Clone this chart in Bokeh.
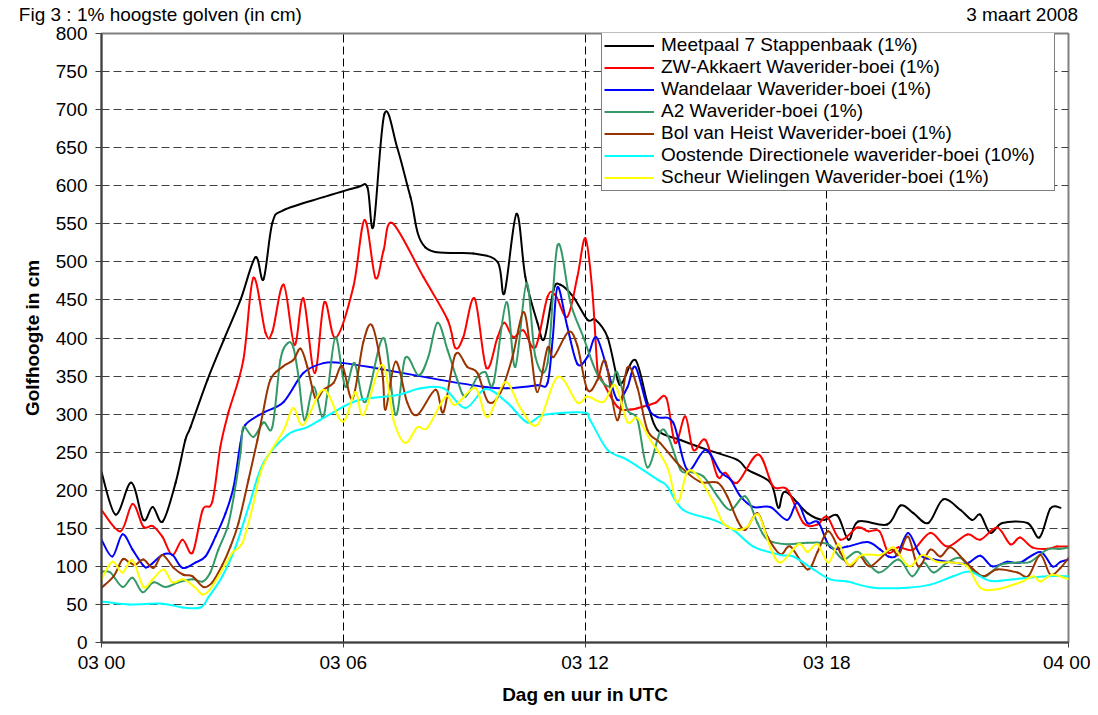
from bokeh.plotting import figure
from bokeh.models import Range1d, FixedTicker, Legend, LegendItem, LinearAxis
from bokeh.embed import file_html
from bokeh.resources import INLINE

# ---- data (hours after 03 00 UTC, height in cm) ----
black_h = [0.00, 0.35, 0.74, 1.04, 1.27, 1.52, 1.84, 2.08, 2.21, 2.63, 3.03, 3.45, 3.82, 4.02, 4.24, 4.52, 5.51, 6.35, 6.60, 6.75, 7.02, 7.34, 7.67, 8.04, 9.23, 9.83, 10.00, 10.30, 10.52, 10.82, 10.99, 11.22, 11.39, 11.71, 12.06, 12.26, 12.56, 12.81, 12.93, 13.25, 13.55, 13.80, 14.37, 15.04, 15.78, 16.03, 16.60, 16.80, 16.97, 17.52, 17.92, 18.26, 18.54, 18.78, 19.50, 19.83, 20.15, 20.52, 20.89, 21.32, 21.61, 21.81, 22.06, 22.36, 22.98, 23.28, 23.55, 23.80]
black_v = [224, 168, 210, 161, 178, 159, 210, 266, 283, 345, 397, 450, 506, 477, 551, 568, 585, 598, 598, 547, 694, 650, 585, 519, 511, 500, 459, 563, 480, 420, 399, 463, 470, 454, 424, 424, 401, 345, 342, 371, 315, 279, 266, 253, 240, 227, 210, 177, 198, 170, 161, 167, 135, 159, 155, 180, 170, 157, 188, 174, 161, 168, 144, 157, 157, 138, 176, 177]

red_h = [0.0, 0.47, 0.77, 1.04, 1.27, 1.51, 1.76, 2.01, 2.26, 2.51, 2.75, 2.95, 3.15, 3.52, 3.77, 4.07, 4.24, 4.52, 4.79, 5.01, 5.29, 5.53, 5.81, 6.25, 6.53, 6.80, 7.00, 7.22, 7.99, 8.59, 8.78, 8.98, 9.26, 9.55, 9.83, 10.00, 10.22, 10.47, 10.77, 11.07, 11.27, 11.56, 11.81, 12.01, 12.18, 12.31, 12.38, 12.80, 13.13, 13.45, 13.75, 14.02, 14.24, 14.49, 14.69, 14.99, 15.29, 15.48, 15.78, 16.30, 16.67, 17.02, 17.42, 17.77, 18.01, 18.34, 18.76, 19.03, 19.31, 19.53, 19.78, 20.15, 20.57, 20.99, 21.49, 21.81, 22.23, 22.56, 22.80, 23.10, 23.47, 23.72, 24.0]
red_v = [174, 146, 182, 152, 153, 139, 115, 135, 118, 174, 185, 257, 302, 371, 479, 407, 408, 470, 391, 452, 354, 447, 400, 467, 555, 479, 515, 551, 480, 424, 387, 401, 452, 361, 401, 420, 401, 410, 388, 454, 456, 428, 480, 531, 463, 358, 349, 310, 306, 310, 315, 321, 262, 297, 253, 266, 218, 223, 210, 247, 205, 201, 157, 155, 165, 135, 151, 146, 146, 118, 125, 122, 144, 126, 142, 135, 151, 129, 138, 125, 123, 126, 126]

blue_h = [0.0, 0.27, 0.52, 0.77, 1.04, 1.17, 1.51, 1.76, 2.01, 2.33, 2.58, 2.83, 3.08, 3.28, 3.45, 3.57, 4.02, 4.52, 5.01, 5.51, 6.00, 6.75, 8.41, 9.48, 10.07, 10.82, 11.07, 11.20, 11.32, 11.56, 11.81, 12.06, 12.28, 12.56, 12.80, 13.05, 13.25, 13.55, 13.80, 14.19, 14.54, 14.99, 15.36, 15.61, 15.86, 16.18, 16.60, 17.02, 17.27, 17.52, 17.79, 18.09, 18.51, 19.01, 19.33, 19.53, 19.75, 20.02, 20.32, 20.65, 21.14, 21.49, 21.81, 22.11, 22.48, 22.80, 23.30, 23.60, 23.80, 24.0]
blue_v = [135, 113, 142, 122, 101, 100, 115, 115, 98, 105, 113, 139, 170, 205, 262, 286, 302, 316, 354, 367, 367, 361, 345, 336, 334, 338, 341, 400, 467, 415, 366, 375, 401, 358, 319, 335, 362, 310, 296, 289, 227, 253, 224, 214, 192, 178, 178, 161, 184, 157, 158, 125, 126, 132, 122, 113, 115, 144, 115, 109, 105, 104, 114, 100, 106, 105, 119, 100, 106, 109]

green_h = [0.0, 0.22, 0.52, 0.77, 1.02, 1.29, 1.59, 1.91, 2.26, 2.51, 2.70, 2.90, 3.13, 3.28, 3.45, 3.52, 3.77, 4.02, 4.24, 4.44, 4.62, 4.76, 4.89, 5.04, 5.26, 5.48, 5.61, 5.81, 6.05, 6.28, 6.55, 7.00, 7.30, 7.54, 7.87, 8.11, 8.34, 8.59, 8.83, 9.03, 9.33, 9.53, 9.73, 10.05, 10.27, 10.55, 10.77, 11.07, 11.32, 11.64, 11.96, 12.31, 12.63, 12.80, 13.05, 13.30, 13.55, 13.87, 14.07, 14.37, 14.62, 14.94, 15.29, 15.61, 15.98, 16.28, 16.53, 17.02, 17.52, 18.04, 18.41, 18.78, 19.28, 19.78, 20.12, 20.40, 20.65, 20.99, 21.32, 21.64, 21.94, 22.31, 22.73, 23.05, 23.47, 23.80, 24.0]
green_v = [93, 92, 73, 85, 66, 79, 73, 79, 83, 80, 92, 122, 152, 191, 249, 283, 270, 289, 283, 371, 393, 388, 349, 292, 336, 296, 328, 401, 336, 367, 316, 400, 299, 374, 351, 375, 420, 384, 345, 323, 349, 355, 341, 447, 362, 472, 375, 367, 522, 446, 401, 352, 336, 355, 306, 293, 230, 277, 270, 227, 224, 218, 192, 174, 192, 157, 135, 129, 131, 129, 109, 119, 92, 109, 87, 105, 92, 105, 111, 93, 87, 102, 105, 106, 122, 123, 125]

brown_h = [0.0, 0.30, 0.52, 0.67, 0.84, 1.04, 1.29, 1.51, 1.79, 2.03, 2.26, 2.53, 2.75, 3.00, 3.20, 3.40, 3.65, 3.87, 4.00, 4.19, 4.49, 4.76, 4.94, 5.11, 5.31, 5.51, 5.76, 5.98, 6.23, 6.50, 6.72, 6.97, 7.05, 7.30, 7.59, 7.84, 8.29, 8.49, 8.78, 9.08, 9.33, 9.60, 9.90, 10.20, 10.47, 10.65, 10.82, 11.07, 11.22, 11.59, 11.81, 12.06, 12.31, 12.51, 12.80, 13.05, 13.30, 13.55, 13.87, 14.37, 14.86, 15.29, 15.53, 15.78, 15.98, 16.28, 16.53, 16.85, 17.10, 17.52, 17.77, 18.04, 18.34, 18.59, 18.83, 19.08, 19.58, 19.78, 20.02, 20.27, 20.57, 20.82, 21.07, 21.39, 21.64, 21.89, 22.23, 22.73, 23.00, 23.30, 23.55, 23.80, 24.0]
brown_v = [72, 87, 109, 106, 102, 109, 98, 115, 98, 89, 87, 73, 79, 102, 126, 157, 214, 266, 300, 345, 362, 371, 386, 362, 321, 332, 341, 363, 320, 395, 416, 354, 306, 369, 315, 299, 332, 303, 378, 362, 354, 316, 328, 375, 434, 384, 329, 387, 375, 408, 390, 332, 345, 369, 292, 361, 335, 279, 262, 231, 211, 210, 192, 161, 148, 170, 139, 116, 126, 96, 119, 146, 118, 100, 113, 100, 122, 115, 139, 100, 122, 113, 125, 109, 96, 87, 96, 92, 87, 115, 89, 98, 111]

cyan_h = [0.0, 0.67, 1.51, 2.01, 2.46, 2.66, 3.00, 3.33, 3.65, 4.02, 4.62, 5.11, 5.68, 6.35, 7.34, 7.92, 8.49, 9.03, 9.53, 10.07, 10.57, 10.97, 11.96, 12.13, 12.56, 13.05, 13.80, 14.04, 14.44, 15.19, 15.68, 16.18, 16.85, 17.17, 17.67, 18.09, 18.51, 19.16, 20.00, 20.57, 21.14, 21.56, 22.06, 22.63, 23.47, 24.0]
cyan_v = [54, 50, 51, 46, 46, 60, 87, 126, 178, 236, 273, 283, 300, 318, 325, 334, 334, 308, 333, 315, 289, 299, 302, 292, 253, 240, 214, 205, 174, 161, 148, 126, 115, 113, 96, 83, 80, 72, 72, 76, 87, 93, 81, 83, 87, 87]

yellow_h = [0.0, 0.27, 0.52, 0.77, 1.04, 1.27, 1.54, 1.76, 2.03, 2.33, 2.51, 2.70, 3.00, 3.25, 3.50, 3.75, 4.00, 4.52, 4.76, 5.01, 5.51, 5.98, 6.30, 6.50, 6.97, 7.25, 7.54, 7.84, 8.09, 8.54, 8.78, 9.28, 9.58, 10.02, 10.40, 10.82, 11.32, 11.81, 12.06, 12.46, 12.75, 13.05, 13.30, 13.62, 14.04, 14.29, 14.54, 14.81, 15.19, 15.43, 15.78, 16.03, 16.30, 16.60, 16.85, 17.30, 17.52, 17.77, 18.04, 18.29, 18.54, 18.88, 19.33, 19.65, 19.83, 20.07, 20.37, 20.74, 21.14, 21.49, 21.81, 22.23, 22.80, 23.13, 23.30, 23.60, 24.0]
yellow_v = [83, 106, 92, 108, 73, 83, 96, 79, 83, 72, 63, 70, 96, 118, 131, 178, 231, 279, 308, 286, 332, 290, 329, 299, 365, 292, 262, 283, 282, 323, 312, 334, 296, 342, 308, 286, 349, 315, 323, 316, 338, 290, 295, 266, 231, 184, 224, 218, 184, 157, 148, 152, 168, 125, 105, 129, 119, 129, 105, 129, 102, 115, 115, 125, 113, 100, 115, 106, 105, 100, 72, 70, 79, 87, 80, 89, 83]

series_names = ["Meetpaal 7 Stappenbaak (1%)", "ZW-Akkaert Waverider-boei (1%)",
                "Wandelaar Waverider-boei (1%)", "A2 Waverider-boei (1%)",
                "Bol van Heist Waverider-boei (1%)", "Oostende Directionele waverider-boei (10%)",
                "Scheur Wielingen Waverider-boei (1%)"]
series_colors = ["#000000", "#FF0000", "#0000FF", "#339966", "#993300", "#00FFFF", "#FFFF00"]
series_data = [(black_h, black_v), (red_h, red_v), (blue_h, blue_v), (green_h, green_v),
               (brown_h, brown_v), (cyan_h, cyan_v), (yellow_h, yellow_v)]

x_ticks = [0, 6, 12, 18, 24]
x_tick_labels = ["03 00", "03 06", "03 12", "03 18", "04 00"]
y_ticks = list(range(0, 801, 50))

title_text = "Fig 3 : 1% hoogste golven (in cm)"
date_text = "3 maart 2008"

FONT = "Liberation Sans"
# horizontal placement (in axis hours) of the page-header texts above the chart
TITLE_POS = 1.46
DATE_POS = 22.85


def smooth_segments(xs, ys):
    """Bezier control points for a smoothed line through the given points (Excel-style)."""
    n = len(xs)
    out = {k: [] for k in ("x0", "y0", "x1", "y1", "cx0", "cy0", "cx1", "cy1")}
    for i in range(n - 1):
        xa, ya = (xs[i - 1], ys[i - 1]) if i > 0 else (xs[i], ys[i])
        xd, yd = (xs[i + 2], ys[i + 2]) if i + 2 < n else (xs[i + 1], ys[i + 1])
        out["x0"].append(xs[i]); out["y0"].append(ys[i])
        out["x1"].append(xs[i + 1]); out["y1"].append(ys[i + 1])
        out["cx0"].append(xs[i] + (xs[i + 1] - xa) / 6.0)
        out["cy0"].append(ys[i] + (ys[i + 1] - ya) / 6.0)
        out["cx1"].append(xs[i + 1] - (xd - xs[i]) / 6.0)
        out["cy1"].append(ys[i + 1] - (yd - ys[i]) / 6.0)
    return out


p = figure(width=1090, height=707, x_range=Range1d(0, 24), y_range=Range1d(0, 800),
           output_backend="svg", toolbar_location=None,
           min_border_left=101, min_border_right=22, min_border_top=33, min_border_bottom=64)
p.background_fill_color = "white"
p.border_fill_color = "white"
p.outline_line_color = "#808080"
p.outline_line_width = 2

# grid
p.xgrid.ticker = FixedTicker(ticks=x_ticks)
p.ygrid.ticker = FixedTicker(ticks=y_ticks)
p.xgrid.grid_line_color = "black"
p.xgrid.grid_line_dash = "8 4"
p.xgrid.grid_line_width = 1
p.ygrid.grid_line_color = "#404040"
p.ygrid.grid_line_dash = "8 4"
p.ygrid.grid_line_width = 1

# axes
for ax in (p.xaxis[0], p.yaxis[0]):
    ax.axis_line_color = "#404040"
    ax.axis_line_width = 2
    ax.major_tick_line_color = "#404040"
    ax.major_tick_in = 0
    ax.minor_tick_line_color = None
    ax.major_label_text_font = FONT
    ax.major_label_text_font_size = "19px"
    ax.major_label_text_color = "black"
    ax.axis_label_text_font = FONT
    ax.axis_label_text_font_size = "19px"
    ax.axis_label_text_font_style = "bold"
    ax.axis_label_text_color = "black"

p.xaxis.ticker = FixedTicker(ticks=x_ticks)
p.xaxis.major_label_overrides = {t: l for t, l in zip(x_ticks, x_tick_labels)}
p.xaxis.major_tick_out = 5
p.xaxis.major_label_standoff = 4
p.xaxis.axis_label = "Dag en uur in UTC"
p.xaxis.axis_label_standoff = 8

p.yaxis.ticker = FixedTicker(ticks=y_ticks)
p.yaxis.major_tick_out = 6
p.yaxis.major_label_standoff = 8
p.yaxis.axis_label = "Golfhoogte in cm"
p.yaxis.axis_label_standoff = 10

# page header (figure title and date) as an unlined axis above the plot
header = LinearAxis(ticker=FixedTicker(ticks=[TITLE_POS, DATE_POS]),
                    major_label_overrides={TITLE_POS: title_text, DATE_POS: date_text},
                    axis_line_color=None, major_tick_line_color=None, minor_tick_line_color=None,
                    major_tick_in=0, major_tick_out=0, major_label_standoff=9,
                    major_label_text_font=FONT, major_label_text_font_size="19px",
                    major_label_text_color="black")
p.add_layout(header, "above")

items = []
for name, col, (xs, ys) in zip(series_names, series_colors, series_data):
    seg = smooth_segments(xs, ys)
    p.bezier(line_color=col, line_width=2, line_cap="round", **seg)
    # one-point line: draws nothing on the plot, but gives the legend its line glyph
    proxy = p.line(x=xs[:1], y=ys[:1], line_color=col, line_width=2)
    items.append(LegendItem(label=name, renderers=[proxy]))

legend = Legend(items=items, location=(500, 451))
legend.label_text_font = FONT
legend.label_text_font_size = "19px"
legend.label_text_color = "black"
legend.border_line_color = "black"
legend.border_line_width = 1
legend.background_fill_color = "white"
legend.background_fill_alpha = 1
legend.glyph_width = 50
legend.glyph_height = 21
legend.label_height = 21
legend.label_width = 391
legend.label_standoff = 7
legend.spacing = 0
legend.padding = 2
legend.margin = 0
p.add_layout(legend, "center")

open("out.html", "w").write(file_html(p, INLINE))
